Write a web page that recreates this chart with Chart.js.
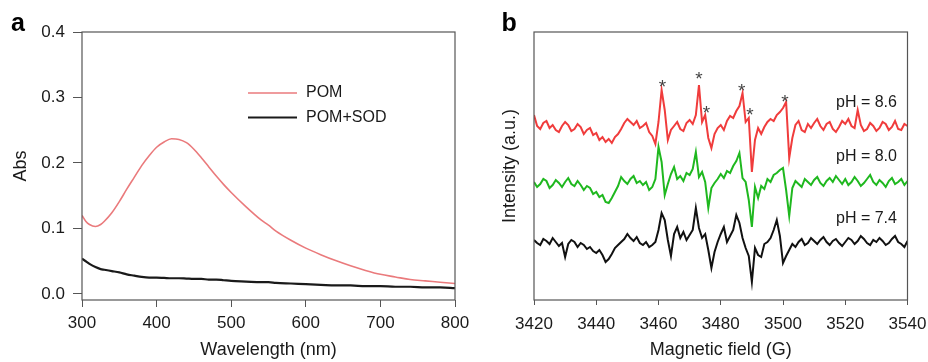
<!DOCTYPE html>
<html>
<head>
<meta charset="utf-8">
<script src="https://cdn.jsdelivr.net/npm/chart.js@4.4.0/dist/chart.umd.min.js"></script>
<style>
  body { margin: 0; background: #fff; width: 928px; height: 362px; overflow: hidden; position: relative; }
  canvas { position: absolute; top: 0; }
  #graficoA { left: 0; }
  #graficoB { left: 470px; }
</style>
</head>
<body>
<canvas id="graficoA" width="470" height="362"></canvas>
<canvas id="graficoB" width="458" height="362"></canvas>
<script>
// PANEL a - UV-vis
var wavelength = [300, 305, 310, 318, 325, 330, 340, 350, 360, 370, 380, 390, 400, 410, 420, 430, 440, 450, 460, 470, 480, 490, 500, 520, 540, 550, 560, 580, 600, 620, 640, 660, 680, 700, 720, 740, 760, 780, 800]
var absPOM = [0.120, 0.111, 0.106, 0.103, 0.106, 0.111, 0.124, 0.141, 0.160, 0.178, 0.196, 0.211, 0.224, 0.232, 0.237, 0.236, 0.231, 0.221, 0.208, 0.194, 0.180, 0.167, 0.155, 0.133, 0.113, 0.105, 0.096, 0.082, 0.070, 0.060, 0.051, 0.043, 0.036, 0.030, 0.026, 0.022, 0.020, 0.018, 0.016]
var absPOMSOD = [0.054, 0.050, 0.046, 0.041, 0.038, 0.037, 0.035, 0.033, 0.030, 0.028, 0.026, 0.025, 0.025, 0.0245, 0.024, 0.024, 0.0235, 0.023, 0.023, 0.022, 0.022, 0.021, 0.020, 0.019, 0.018, 0.018, 0.017, 0.016, 0.015, 0.014, 0.013, 0.013, 0.012, 0.012, 0.011, 0.011, 0.010, 0.010, 0.009]
var ticksXA = [300, 400, 500, 600, 700, 800]
var ticksYA = [0.0, 0.1, 0.2, 0.3, 0.4]

// PANEL b - EPR, field in G (1 G steps from 3420 to 3540), intensity in a.u.
var campo = []
for (var g = 3420; g <= 3540; g++) campo.push(g)
var epr86 = [185, 174, 171, 177, 179, 172, 175, 170, 168, 174, 178, 175, 169, 171, 176, 173, 166, 170, 172, 165, 167,
  160, 163, 158, 161, 157, 163, 166, 171, 177, 181, 178, 175, 179, 172, 174, 177, 168, 164, 156,
  178, 210, 190, 160, 170, 174, 178, 171, 169, 177, 180, 176, 185, 215, 178, 185, 162, 152, 166, 172, 175, 170, 179, 184, 182, 189, 194, 207,
  178, 182, 128, 160, 172, 166, 173, 178, 181, 179, 185, 188, 192, 198, 142,
  162, 175, 179, 170, 168, 176, 172, 177, 181, 174, 170, 176, 178, 171, 168, 173, 179, 176, 181, 174,
  172, 190, 175, 169, 171, 177, 174, 169, 172, 178, 176, 170, 173, 179, 171, 170, 176, 174]
var epr80 = [118, 113, 116, 121, 119, 112, 115, 120, 117, 113, 118, 122, 116, 114, 119, 115, 110, 114, 112, 106, 108,
  103, 105, 98, 97, 102, 108, 114, 123, 119, 116, 121, 124, 117, 119, 115, 118, 110, 113, 121,
  153, 138, 105, 116, 126, 133, 121, 124, 119, 127, 125, 131, 148, 123, 128, 118, 92, 112, 117, 121, 126, 122, 129, 127, 134, 139, 147, 122,
  118, 100, 73, 113, 102, 114, 111, 121, 118, 125, 127, 130, 132, 110, 84,
  112, 119, 116, 113, 121, 118, 115, 120, 123, 117, 114, 119, 122, 118, 124, 120, 116, 121, 115, 118,
  123, 119, 114, 117, 121, 125, 118, 115, 120, 117, 113, 119, 122, 116, 118, 121, 115, 119]
var epr74 = [60, 57, 55, 61, 59, 56, 62, 58, 54, 57, 43, 56, 60, 58, 53, 57, 55, 51, 53, 49, 47,
  50, 45, 38, 41, 46, 52, 55, 58, 61, 66, 62, 59, 63, 57, 55, 58, 53, 55, 58,
  70, 87, 80, 60, 44, 66, 73, 62, 68, 60, 65, 70, 92, 72, 62, 66, 50, 32, 48, 58, 66, 73, 58, 64, 70, 85, 77, 62,
  52, 44, 18, 52, 45, 43, 56, 58, 62, 70, 80, 64, 37, 44, 50,
  56, 53, 58, 61, 55, 57, 62, 59, 56, 60, 63, 58, 55, 59, 61, 57, 54, 58, 62, 60,
  56, 59, 64, 61, 57, 55, 60, 58, 62, 59, 55, 57, 61, 64, 58, 56, 53, 59]
var ticksXB = [3420, 3440, 3460, 3480, 3500, 3520, 3540]
var rotulosPH = ['pH = 8.6', 'pH = 8.0', 'pH = 7.4']
var rotuloCampo = [3536.6, 3536.6, 3536.6]
var rotuloInt = [197, 143, 81]
// ASTERISCOS DOS PICOS
var picoCampo = [3461.3, 3473.0, 3475.4, 3486.7, 3489.4, 3500.6]
var picoInt = [217, 225, 191, 213, 189, 202]

Chart.defaults.font.family = "'Liberation Sans', Arial, sans-serif"
Chart.defaults.color = '#1a1a1a'

function pares(xs, ys) {
    var out = []
    for (var i = 0; i < xs.length; i++) out.push({ x: xs[i], y: ys[i] })
    return out
}

// sem padding extra dos rotulos, a area fica onde o layout manda
function fixaX(s) { s.height = 62; s.paddingLeft = 0; s.paddingRight = 0 }

var moldura = {
    id: 'moldura',
    afterDraw: function (chart) {
        var a = chart.chartArea
        var ctx = chart.ctx
        ctx.save()
        ctx.strokeStyle = '#555'
        ctx.lineWidth = 1.2
        ctx.strokeRect(a.left, a.top, a.right - a.left, a.bottom - a.top)
        ctx.restore()
    }
}

function letra(txt, x) {
    return {
        id: 'letra' + txt,
        afterDraw: function (chart) {
            var ctx = chart.ctx
            ctx.save()
            ctx.font = "bold 25px 'Liberation Sans', Arial, sans-serif"
            ctx.fillStyle = '#000'
            ctx.textBaseline = 'alphabetic'
            ctx.fillText(txt, x, 30.5)
            ctx.restore()
        }
    }
}

var legendaA = {
    id: 'legendaA',
    afterDraw: function (chart) {
        var ctx = chart.ctx
        ctx.save()
        ctx.font = "16px 'Liberation Sans', Arial, sans-serif"
        ctx.textBaseline = 'middle'
        chart.data.datasets.forEach(function (ds, i) {
            var y = 93 + i * 24.5
            ctx.strokeStyle = ds.borderColor
            ctx.lineWidth = ds.borderWidth
            ctx.beginPath()
            ctx.moveTo(248, y)
            ctx.lineTo(297, y)
            ctx.stroke()
            ctx.fillStyle = '#1a1a1a'
            ctx.fillText(ds.label, 306, y)
        })
        ctx.restore()
    }
}

var textosB = {
    id: 'textosB',
    afterDraw: function (chart) {
        var ctx = chart.ctx
        var sx = chart.scales.x, sy = chart.scales.y
        ctx.save()
        ctx.font = "16px 'Liberation Sans', Arial, sans-serif"
        ctx.fillStyle = '#1a1a1a'
        ctx.textAlign = 'right'
        ctx.textBaseline = 'middle'
        for (var i = 0; i < rotulosPH.length; i++) {
            ctx.fillText(rotulosPH[i], sx.getPixelForValue(rotuloCampo[i]), sy.getPixelForValue(rotuloInt[i]))
        }
        ctx.font = "19px 'Liberation Sans', Arial, sans-serif"
        ctx.fillStyle = '#444'
        ctx.textAlign = 'center'
        for (var j = 0; j < picoCampo.length; j++) {
            ctx.fillText('*', sx.getPixelForValue(picoCampo[j]), sy.getPixelForValue(picoInt[j]) + 4.5)
        }
        ctx.restore()
    }
}

new Chart(document.getElementById('graficoA'), {
    type: 'line',
    data: {
        datasets: [{
            label: 'POM',
            data: pares(wavelength, absPOM),
            borderColor: '#ea7a7c',
            borderWidth: 1.6,
            pointRadius: 0,
            tension: 0.4,
            cubicInterpolationMode: 'monotone'
        }, {
            label: 'POM+SOD',
            data: pares(wavelength, absPOMSOD),
            borderColor: '#1a1a1a',
            borderWidth: 2.2,
            pointRadius: 0,
            tension: 0.4,
            cubicInterpolationMode: 'monotone'
        }]
    },
    options: {
        responsive: false,
        animation: false,
        layout: { padding: { left: 0, right: 15, top: 32, bottom: 0 } },
        plugins: { legend: { display: false }, tooltip: { enabled: false } },
        scales: {
            x: {
                type: 'linear', min: 300, max: 800,
                afterBuildTicks: function (s) { s.ticks = ticksXA.map(function (v) { return { value: v } }) },
                afterFit: fixaX,
                grid: { drawOnChartArea: false, drawTicks: true, tickLength: 7, color: '#555' },
                border: { display: false },
                ticks: { font: { size: 17 }, padding: 6, maxRotation: 0, color: '#1a1a1a', callback: function (v) { return String(v) } },
                title: { display: true, text: 'Wavelength (nm)', font: { size: 18 }, padding: { top: 0, bottom: 1 }, color: '#1a1a1a' }
            },
            y: {
                min: -0.0092, max: 0.4,
                afterBuildTicks: function (s) { s.ticks = ticksYA.map(function (v) { return { value: v } }) },
                afterFit: function (s) { s.width = 82; s.paddingTop = 0; s.paddingBottom = 0 },
                grid: { drawOnChartArea: false, drawTicks: true, tickLength: 9, color: '#555' },
                border: { display: false },
                ticks: { font: { size: 17 }, padding: 8, color: '#1a1a1a', callback: function (v) { return v.toFixed(1) } },
                title: { display: true, text: 'Abs', font: { size: 18 }, padding: { top: 10, bottom: 0 }, color: '#1a1a1a' }
            }
        }
    },
    plugins: [moldura, legendaA, letra('a', 11)]
})

new Chart(document.getElementById('graficoB'), {
    type: 'line',
    data: {
        datasets: [{
            label: 'pH = 8.6',
            data: pares(campo, epr86),
            borderColor: '#f03c3c',
            borderWidth: 2,
            pointRadius: 0,
            tension: 0
        }, {
            label: 'pH = 8.0',
            data: pares(campo, epr80),
            borderColor: '#1fb81f',
            borderWidth: 2,
            pointRadius: 0,
            tension: 0
        }, {
            label: 'pH = 7.4',
            data: pares(campo, epr74),
            borderColor: '#111',
            borderWidth: 2,
            pointRadius: 0,
            tension: 0
        }]
    },
    options: {
        responsive: false,
        animation: false,
        layout: { padding: { left: 0, right: 20.5, top: 32, bottom: 0 } },
        plugins: { legend: { display: false }, tooltip: { enabled: false } },
        scales: {
            x: {
                type: 'linear', min: 3420, max: 3540,
                afterBuildTicks: function (s) { s.ticks = ticksXB.map(function (v) { return { value: v } }) },
                afterFit: fixaX,
                grid: { drawOnChartArea: false, drawTicks: true, tickLength: 5, color: '#555' },
                border: { display: false },
                ticks: { font: { size: 17 }, padding: 9, maxRotation: 0, color: '#1a1a1a', callback: function (v) { return String(v) } },
                title: { display: true, text: 'Magnetic field (G)', font: { size: 18 }, padding: { top: 0, bottom: 1 }, color: '#1a1a1a' }
            },
            y: {
                min: 0, max: 268,
                afterFit: function (s) { s.width = 64; s.paddingTop = 0; s.paddingBottom = 0 },
                grid: { drawOnChartArea: false, drawTicks: false },
                border: { display: false },
                ticks: { display: false },
                title: { display: true, text: 'Intensity (a.u.)', font: { size: 18 }, padding: { top: 29, bottom: 0 }, color: '#1a1a1a' }
            }
        }
    },
    plugins: [moldura, textosB, letra('b', 31.5)]
})
</script>
</body>
</html>
